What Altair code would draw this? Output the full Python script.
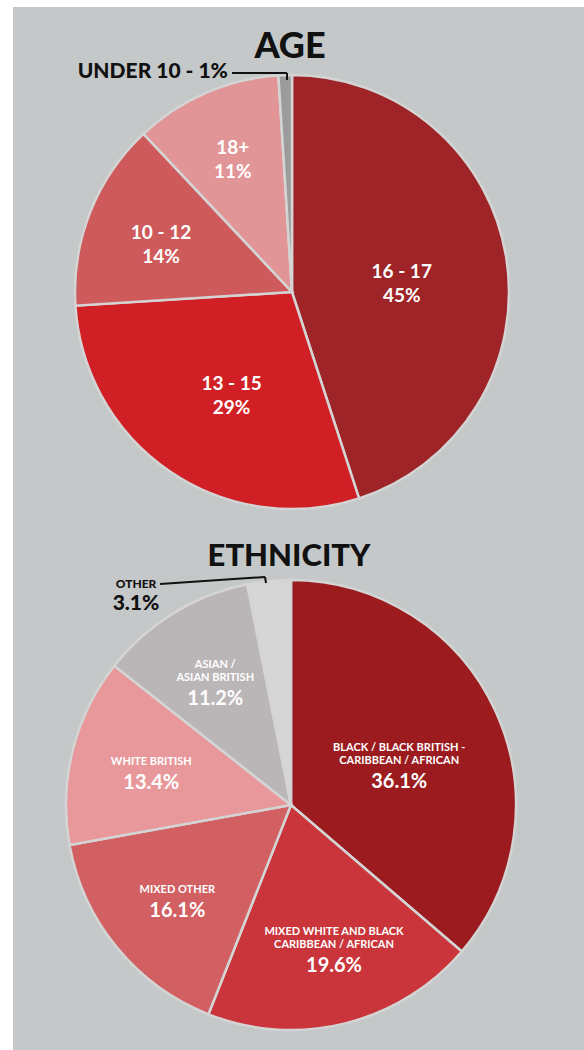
import altair as alt
import pandas as pd

# ---------------- data ----------------
age_cats = ["16 - 17", "13 - 15", "10 - 12", "18+", "UNDER 10"]
age_vals = [45, 29, 14, 11, 1]
age_pct = ["45%", "29%", "14%", "11%", "1%"]
age_colors = ["#9e2427", "#d11f26", "#cf5a5b", "#e29596", "#9b9b9b"]

eth_cats = [
    "BLACK / BLACK BRITISH -\nCARIBBEAN / AFRICAN",
    "MIXED WHITE AND BLACK\nCARIBBEAN / AFRICAN",
    "MIXED OTHER",
    "WHITE BRITISH",
    "ASIAN /\nASIAN BRITISH",
    "OTHER",
]
eth_vals = [36.1, 19.6, 16.1, 13.4, 11.2, 3.1]
eth_pct = ["36.1%", "19.6%", "16.1%", "13.4%", "11.2%", "3.1%"]
eth_colors = ["#9b1b1f", "#c9353a", "#d26063", "#e8989b", "#bab6b8", "#d6d6d6"]

# ---------------- layout (not data) ----------------
W, H = 584, 1050
BG = "#c5c8c9"
AGE_C = (292, 292)
AGE_R = 217
ETH_C = (291, 805)
ETH_R = 225
# label placement: (angle offset in degrees, radius in px) per slice
AGE_LAB = [(4.8, 110), (-4, 120), (-2, 139), (-0.7, 145), (0, 0)]
ETH_LAB = [(6.3, 114), (-2.3, 154), (0, 147), (0, 144), (-1, 141), (0, 0)]
FONT = "Lato"

age_df = pd.DataFrame({"cat": age_cats, "value": age_vals, "pct": age_pct,
                       "idx": list(range(len(age_cats)))})
eth_df = pd.DataFrame({"cat": eth_cats, "value": eth_vals, "pct": eth_pct,
                       "idx": list(range(len(eth_cats)))})


def pie(df, colors, center, radius, lab, name_size, pct_size, name_dy, pct_dy, lh):
    total = float(df["value"].sum())
    cx, cy = center
    base = alt.Chart(df)
    arcs = base.mark_arc(outerRadius=radius, stroke="#d4d4d4", strokeWidth=2.5).encode(
        theta=alt.Theta("value:Q", stack=True),
        color=alt.Color("cat:N", scale=alt.Scale(domain=list(df["cat"]), range=colors), legend=None),
        order=alt.Order("idx:Q"),
        x=alt.value(cx),
        y=alt.value(cy),
    )
    offs = "[" + ",".join(str(o / 360.0 * total) for o, _ in lab) + "]"
    rads = "[" + ",".join(str(r) for _, r in lab) + "]"
    lb = base.transform_window(
        cum="sum(value)", sort=[alt.SortField("idx")], frame=[None, 0]
    ).transform_calculate(
        mid=f"datum.cum - datum.value/2 + {offs}[datum.idx]",
        lr=f"{rads}[datum.idx]",
        parts="split(datum.cat, '\\n')",
    ).transform_calculate(
        l1="length(datum.parts) > 1 ? datum.parts[0] : ''",
        l2="peek(datum.parts)",
    ).transform_filter("datum.lr > 0")
    enc = dict(
        theta=alt.Theta("mid:Q", scale=alt.Scale(domain=[0, total])),
        radius=alt.Radius("lr:Q", scale=None),
        x=alt.value(cx),
        y=alt.value(cy),
    )
    style = dict(font=FONT, fontWeight="bold", color="white", align="center")
    name2 = lb.mark_text(fontSize=name_size, baseline="bottom", dy=name_dy, **style).encode(
        text="l2:N", **enc)
    name1 = lb.mark_text(fontSize=name_size, baseline="bottom", dy=name_dy - lh, **style).encode(
        text="l1:N", **enc)
    pcts = lb.mark_text(fontSize=pct_size, baseline="top", dy=pct_dy, **style).encode(
        text="pct:N", **enc)
    return [arcs, name1, name2, pcts]


one = alt.Data(values=[{}])

panel = alt.Chart(one).mark_rect(fill=BG).encode(
    x=alt.value(13), x2=alt.value(W), y=alt.value(7), y2=alt.value(H))


def label(txt, x, y, size, weight="bold", align="center", baseline="middle", font=FONT):
    return alt.Chart(one).mark_text(text=txt, font=font, fontWeight=weight, fontSize=size,
                                    color="#111111", align=align, baseline=baseline).encode(
        x=alt.value(x), y=alt.value(y))


def line(x1, y1, x2, y2, w=2):
    return alt.Chart(one).mark_rule(color="#111111", strokeWidth=w).encode(
        x=alt.value(x1), y=alt.value(y1), x2=alt.value(x2), y2=alt.value(y2))


layers = [panel]
layers += pie(age_df, age_colors, AGE_C, AGE_R, AGE_LAB, 19, 19, -2, 3, 0)
layers += pie(eth_df, eth_colors, ETH_C, ETH_R, ETH_LAB, 11, 20, -3, 3, 13)
layers += [
    label("AGE", 290, 47, 36, weight=900),
    label("ETHNICITY", 289, 557, 31, weight=900),
    label("UNDER 10 - 1%", 228, 72, 21, weight=900, align="right"),
    line(232, 73, 287, 73),
    line(287, 73, 287, 80),
    label("OTHER", 136, 584, 12, weight=900),
    label("3.1%", 136, 604, 21, weight=900),
    line(160, 584, 265, 577),
    line(265, 577, 266, 583),
]

chart = alt.layer(*layers).resolve_scale(
    theta="independent", color="independent", radius="independent"
).properties(
    width=W, height=H, autosize=alt.AutoSizeParams(type="none"), padding=0,
    background="white",
).configure_view(stroke=None)

chart.save("out.html", embed_options={"renderer": "svg", "actions": False})
